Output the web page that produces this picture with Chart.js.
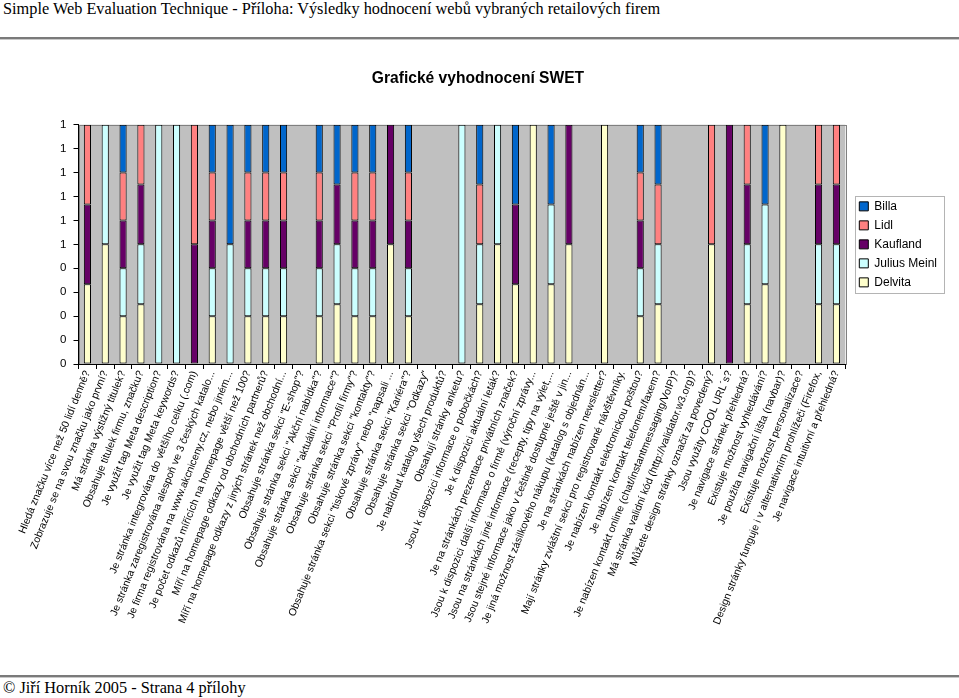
<!DOCTYPE html>
<html>
<head>
<meta charset="utf-8">
<script src="https://cdn.jsdelivr.net/npm/chart.js@4/dist/chart.umd.min.js"></script>
<style>
  html, body { margin:0; padding:0; background:#fff; }
  #page { position:relative; width:959px; height:698px; overflow:hidden; }
  .hdr { position:absolute; left:3px; font-family:'Liberation Serif', 'Times New Roman', serif; font-size:16.3px; line-height:18px; color:#000; white-space:nowrap; }
  .rule { position:absolute; left:0; width:959px; height:0; border-top:2px solid #7a7a7a; border-bottom:1px solid #c8c8c8; }
  canvas { position:absolute; left:0; top:0; }
</style>
</head>
<body>
<div id="page">
  <div class="hdr" style="top:0px">Simple Web Evaluation Technique - Příloha: Výsledky hodnocení webů vybraných retailových firem</div>
  <div class="rule" style="top:37px"></div>
  <div class="rule" style="top:675px"></div>
  <div class="hdr" style="top:679px">© Jiří Horník 2005 - Strana 4 přílohy</div>
  <canvas id="c" width="959" height="698"></canvas>
</div>
<script>
const chartTitle = 'Grafické vyhodnocení SWET';

const categories = [
  'Hledá značku více než 50 lidí denně?',
  'Zobrazuje se na svou značku jako první?',
  'Má stránka výstižný titulek?',
  'Obsahuje titulek firmu, značku?',
  'Je využit tag Meta description?',
  'Je využit tag Meta keywords?',
  'Je stránka integrována do většího celku (.com)',
  'Je stránka zaregistrována alespoň ve 3 českých katalo...',
  'Je firma registrována na www.akcniceny.cz, nebo jiném...',
  'Je počet odkazů mířících na homepage větší než 100?',
  'Míří na homepage odkazy od obchodních partnerů?',
  'Míří na homepage odkazy z jiných stránek než obchodní...',
  'Obsahuje stránka sekci "E-shop"?',
  'Obsahuje stránka sekci "Akční nabídka"?',
  'Obsahuje stránka sekci "aktuální informace"?',
  'Obsahuje stránka sekci "Profil firmy"?',
  'Obsahuje stránka sekci "kontakty"?',
  'Obsahuje stránka sekci "tiskové zprávy" nebo "napsali ...',
  'Obsahuje stránka sekci "Kariéra"?',
  'Obsahuje stránka sekci "Odkazy"',
  'Je nabídnut katalog všech produktů?',
  'Obsahují stránky anketu?',
  'Jsou k dispozici informace o pobočkách?',
  'Je k dispozici aktuální leták?',
  'Je na stránkách prezentace privátních značek?',
  'Jsou k dispozici další informace o firmě (výroční zprávy...',
  'Jsou na stránkách jiné informace (recepty, tipy na výlet,...',
  'Jsou stejné informace jako v češtině dostupné ještě v jin...',
  'Je jiná možnost zásilkového nákupu (katalog s objednán...',
  'Je na stránkách nabízen newsletter?',
  'Mají stránky zvláštní sekci pro registrované návštěvníky.',
  'Je nabízen kontakt elektronickou poštou?',
  'Je nabízen kontakt telefonem/faxem?',
  'Je nabízen kontakt online (chat/instantmessaging/VoIP)?',
  'Má stránka validní kód (http://validator.w3.org)?',
  'Můžete design stránky označit za povedený?',
  'Jsou využity COOL URL´s?',
  'Je navigace stránek přehledná?',
  'Existuje možnost vyhledávání?',
  'Je použita navigační lišta (navbar)?',
  'Existuje možnost personalizace?',
  'Design stránky funguje i v alternativním prohlížeči (Firefox,',
  'Je navigace intuitivní a přehledná?'
];

// 1 = yes, 0 = no (per firm, per question)
const billa     = [0,0,1,0,0,0,0,1,1,1,1,1,0,1,1,1,1,0,1,0,0,0,1,0,1,0,1,0,0,0,0,1,1,0,0,0,0,0,1,0,0,0,0];
const lidl      = [1,0,1,1,0,0,1,1,0,1,1,1,0,1,0,1,1,0,1,0,0,0,1,0,0,0,0,0,0,0,0,1,1,0,0,1,0,1,0,0,0,1,1];
const kaufland  = [1,0,1,1,0,0,1,1,0,1,1,1,0,1,1,1,1,1,1,0,0,0,0,0,1,0,0,1,0,0,0,1,0,0,0,0,1,1,0,0,0,1,1];
const juliusMeinl=[0,1,1,1,1,1,0,1,1,1,1,1,0,1,1,1,1,0,1,0,0,1,1,1,0,0,1,0,0,0,0,1,1,0,0,0,0,1,1,0,0,1,1];
const delvita   = [1,1,1,1,0,0,0,1,0,1,1,1,0,1,1,1,1,1,1,0,0,0,1,1,1,1,1,1,0,1,0,1,1,0,0,1,0,1,1,1,0,1,1];

const yTickLabels = ['0','0','0','0','0','1','1','1','1','1','1'];

const seriesNames  = ['Delvita','Julius Meinl','Kaufland','Lidl','Billa'];
const seriesRaw    = [delvita, juliusMeinl, kaufland, lidl, billa];
const seriesColors = ['#FFFFCC','#CCFFFF','#660066','#FF8080','#0066CC'];

// 100% stacked: share of each series in the category total
const totals = categories.map((_, i) => seriesRaw.reduce((s, arr) => s + arr[i], 0));
const datasets = seriesRaw.map((arr, k) => ({
  label: seriesNames[k],
  data: arr.map((v, i) => totals[i] ? v / totals[i] : 0),
  backgroundColor: seriesColors[k],
  borderColor: '#000000',
  borderWidth: 1,
  borderSkipped: false,
  barPercentage: 0.4,
  categoryPercentage: 1.0
}));

const plotBg = {
  id: 'plotBg',
  beforeDraw(chart) {
    const {ctx, chartArea: a} = chart;
    ctx.save();
    ctx.fillStyle = '#C0C0C0';
    ctx.fillRect(a.left, a.top, a.right - a.left, a.bottom - a.top);
    ctx.strokeStyle = '#808080';
    ctx.lineWidth = 1;
    ctx.strokeRect(Math.round(a.left) + 0.5, Math.round(a.top) + 0.5, Math.round(a.right - a.left), Math.round(a.bottom - a.top));
    ctx.restore();
  }
};

const layoutTweak = {
  id: 'layoutTweak',
  afterLayout(chart) {
    const l = chart.legend;
    if (l) { l.left += 7; l.right += 7; }
    const t = chart.titleBlock;
    if (t) { t.left = 0; t.right = 956; }
  }
};

const legendBorder = {
  id: 'legendBorder',
  afterDraw(chart) {
    const l = chart.legend;
    if (!l || !l.legendHitBoxes || !l.legendHitBoxes.length) return;
    const hb = l.legendHitBoxes;
    const x0 = Math.min(...hb.map(h => h.left)) - 4;
    const y0 = Math.min(...hb.map(h => h.top)) - 4;
    const x1 = Math.max(...hb.map(h => h.left + h.width)) + 7;
    const y1 = Math.max(...hb.map(h => h.top + h.height)) + 5;
    const ctx = chart.ctx;
    ctx.save();
    ctx.strokeStyle = '#B4B4B4';
    ctx.lineWidth = 1;
    ctx.strokeRect(Math.round(x0) + 0.5, Math.round(y0) + 0.5, Math.round(x1 - x0), Math.round(y1 - y0));
    ctx.restore();
  }
};

new Chart(document.getElementById('c'), {
  type: 'bar',
  data: { labels: categories, datasets },
  plugins: [plotBg, layoutTweak, legendBorder],
  options: {
    responsive: false,
    animation: false,
    devicePixelRatio: 1,
    layout: { padding: { left: 0, right: 19, top: 0, bottom: 0 } },
    plugins: {
      title: {
        display: true,
        text: chartTitle,
        color: '#000',
        font: { family: "'Liberation Sans', Arial, sans-serif", size: 15.6, weight: 'bold' },
        padding: { top: 69, bottom: 37 }
      },
      legend: {
        position: 'right',
        fullSize: false,
        reverse: true,
        labels: {
          color: '#000',
          font: { family: "'Liberation Sans', Arial, sans-serif", size: 12 },
          boxWidth: 9,
          boxHeight: 9,
          padding: 7
        }
      },
      tooltip: { enabled: false }
    },
    scales: {
      x: {
        stacked: true,
        grid: { drawOnChartArea: false, drawTicks: true, tickLength: 5, color: '#000', offset: true },
        border: { color: '#000', width: 1 },
        ticks: {
          autoSkip: false, minRotation: 68, maxRotation: 68, padding: 0,
          color: '#000',
          font: { family: "'Liberation Sans', Arial, sans-serif", size: 10.5 }
        },
        afterFit(s) { s.height = 698 - 364; }
      },
      y: {
        stacked: true,
        min: 0, max: 1,
        grid: { drawOnChartArea: false, drawTicks: true, tickLength: 5, color: '#000' },
        border: { color: '#000', width: 1 },
        ticks: {
          stepSize: 0.1, padding: 7, color: '#000',
          font: { family: "'Liberation Sans', Arial, sans-serif", size: 11.5 },
          callback: (v, i) => yTickLabels[i]
        },
        afterFit(s) { s.width = 78.5; }
      }
    }
  }
});
</script>
</body>
</html>
